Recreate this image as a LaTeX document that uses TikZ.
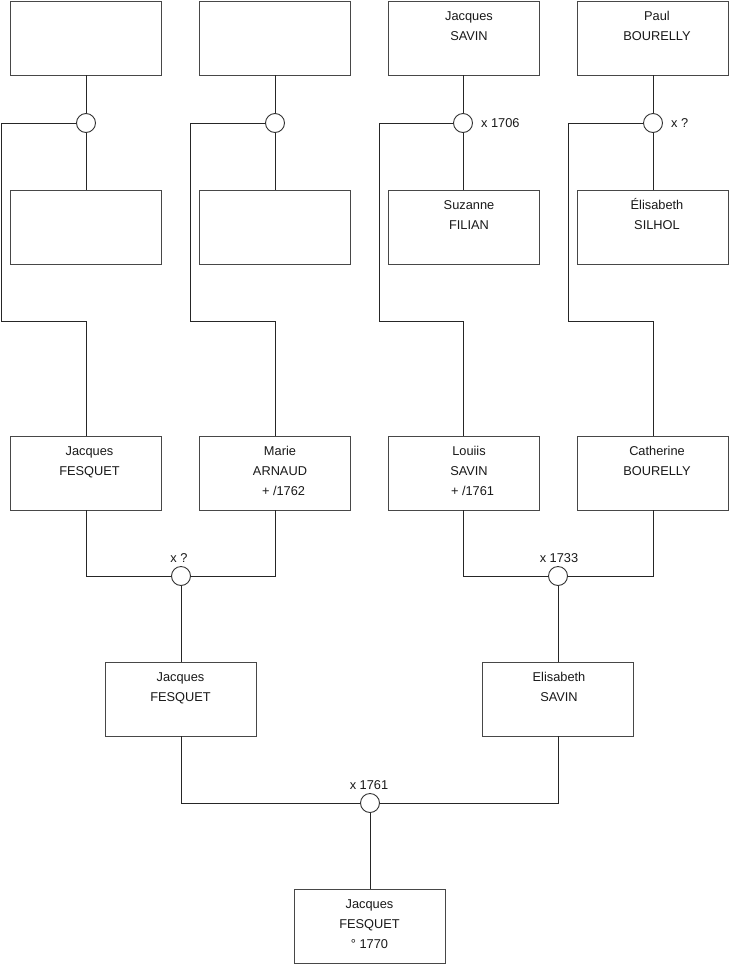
\documentclass[tikz,border=0pt]{standalone}
\usepackage{fontspec}
\setmainfont{Liberation Sans}
\begin{document}
\begin{tikzpicture}[x=1pt,y=-1pt,
  box/.style={draw=black!72,line width=0.9pt,minimum width=151pt,minimum height=74pt,inner sep=0pt},
  txt/.style={anchor=north,align=center,inner sep=0pt,font=\fontsize{12.8}{20}\selectfont,text=black!90},
  marr/.style={circle,draw=black!80,line width=0.9pt,fill=white,minimum size=19pt,inner sep=0pt},
  lab/.style={inner sep=0pt,font=\fontsize{12.8}{15}\selectfont,text=black!90},
  conn/.style={draw=black!85,line width=0.9pt}]
\useasboundingbox[fill=white] (0,0) rectangle (740,975);

% generation 4 (top)
\node[box] (a1) at (85.5,38) {};
\node[box] (a2) at (275,38) {};
\node[box] (a3) at (464,38) {};
\node[box] (a4) at (653,38) {};
\node[txt] (a3t) at ([xshift=5pt,yshift=-5.5pt]a3.north) {\strut Jacques\\SAVIN};
\node[txt] (a4t) at ([xshift=4pt,yshift=-5.5pt]a4.north) {\strut Paul\\BOURELLY};

\node[box] (b1) at (85.5,227) {};
\node[box] (b2) at (275,227) {};
\node[box] (b3) at (464,227) {};
\node[box] (b4) at (653,227) {};
\node[txt] (b3t) at ([xshift=5pt,yshift=-5.5pt]b3.north) {\strut Suzanne\\FILIAN};
\node[txt] (b4t) at ([xshift=4pt,yshift=-5.5pt]b4.north) {\strut Élisabeth\\SILHOL};

% marriage circles (top)
\node[marr] (m1) at (86,123) {};
\node[marr] (m2) at (275,123) {};
\node[marr] (m3) at (463,123) {};
\node[marr] (m4) at (653,123) {};
\node[lab,anchor=west] (m3l) at ([xshift=8pt]m3.east) {x 1706};
\node[lab,anchor=west] (m4l) at ([xshift=8pt]m4.east) {x ?};

% generation 3
\node[box] (p1) at (85.5,473) {};
\node[box] (p2) at (275,473) {};
\node[box] (p3) at (464,473) {};
\node[box] (p4) at (653,473) {};
\node[txt] (p1t) at ([xshift=4pt,yshift=-5.5pt]p1.north) {\strut Jacques\\FESQUET};
\node[txt] (p2t) at ([xshift=5pt,yshift=-5.5pt]p2.north) {\strut Marie\\ARNAUD\\\ \ + /1762};
\node[txt] (p3t) at ([xshift=5pt,yshift=-5.5pt]p3.north) {\strut Louiis\\SAVIN\\\ \ + /1761};
\node[txt] (p4t) at ([xshift=4pt,yshift=-5.5pt]p4.north) {\strut Catherine\\BOURELLY};

\coordinate (k1) at (1,321);
\coordinate (k2) at (190,321);
\coordinate (k3) at (379,321);
\coordinate (k4) at (568,321);

\draw[conn] (a1.south -| m1) -- (m1.north);
\draw[conn] (m1.south) -- (b1.north -| m1);
\draw[conn] (a2.south) -- (m2.north);
\draw[conn] (m2.south) -- (b2.north);
\draw[conn] (a3.south -| m3) -- (m3.north);
\draw[conn] (m3.south) -- (b3.north -| m3);
\draw[conn] (a4.south) -- (m4.north);
\draw[conn] (m4.south) -- (b4.north);

\draw[conn] (m1.west) -| (k1) -| (p1.north -| m1);
\draw[conn] (m2.west) -| (k2) -| (p2.north);
\draw[conn] (m3.west) -| (k3) -| (p3.north -| m3);
\draw[conn] (m4.west) -| (k4) -| (p4.north);

% generation 2
\node[marr] (u1) at (181,576) {};
\node[marr] (u2) at (558,576) {};
\node[lab,anchor=base] (u1l) at ([xshift=-2pt,yshift=4pt]u1.north) {x ?};
\node[lab,anchor=base] (u2l) at ([xshift=1pt,yshift=4pt]u2.north) {x 1733};

\draw[conn] (p1.south -| m1) |- (u1.west);
\draw[conn] (u1.east) -| (p2.south);
\draw[conn] (p3.south -| m3) |- (u2.west);
\draw[conn] (u2.east) -| (p4.south);

\node[box] (g1) at (180.5,699) {};
\node[box] (g2) at (558,699) {};
\node[txt] (g1t) at ([xshift=0pt,yshift=-5.5pt]g1.north) {\strut Jacques\\FESQUET};
\node[txt] (g2t) at ([xshift=1pt,yshift=-5.5pt]g2.north) {\strut Elisabeth\\SAVIN};

\draw[conn] (u1.south) -- (g1.north -| u1);
\draw[conn] (u2.south) -- (g2.north -| u2);

% generation 1
\node[marr] (u3) at (370,803) {};
\node[lab,anchor=base] (u3l) at ([xshift=-1pt,yshift=4pt]u3.north) {x 1761};
\draw[conn] (g1.south -| u1) |- (u3.west);
\draw[conn] (u3.east) -| (g2.south -| u2);

\node[box] (r) at (369.5,926) {};
\node[txt] (rt) at ([xshift=0pt,yshift=-5.5pt]r.north) {\strut Jacques\\FESQUET\\° 1770};
\draw[conn] (u3.south) -- (r.north -| u3);
\end{tikzpicture}
\end{document}
